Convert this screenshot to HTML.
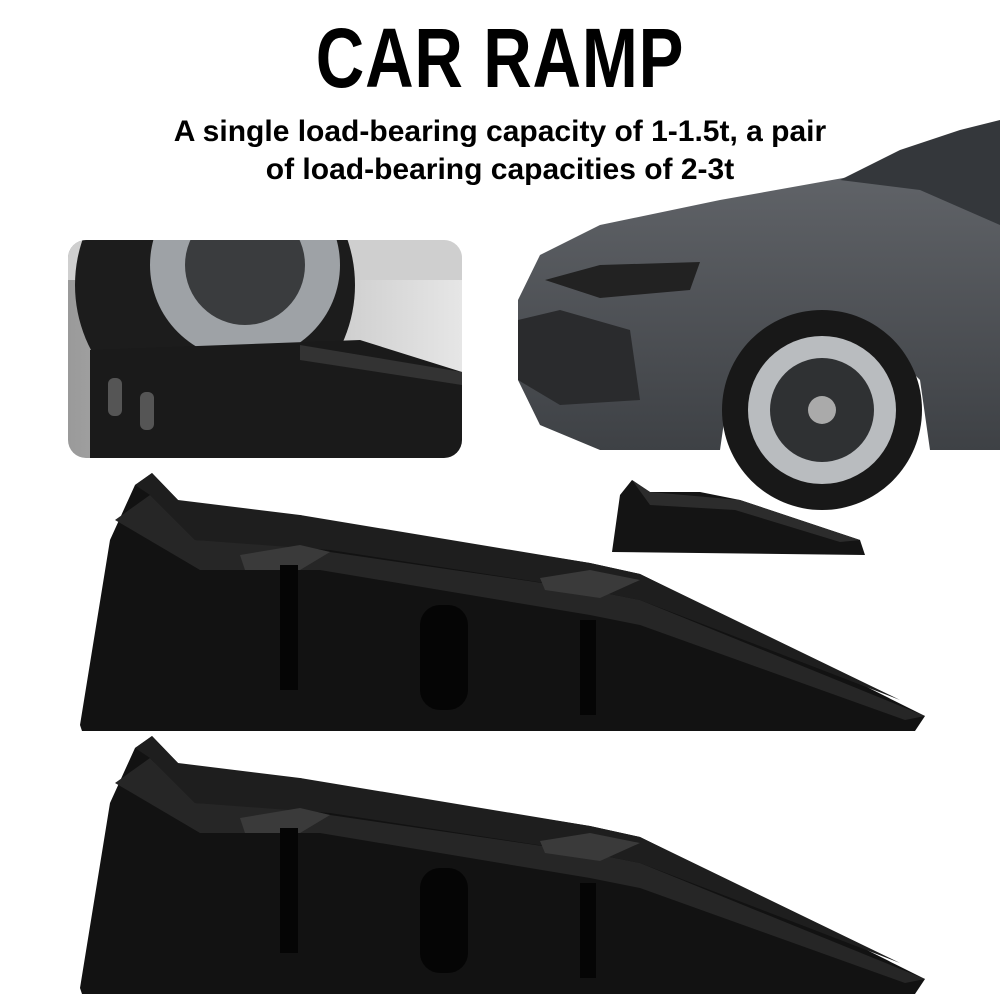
<!DOCTYPE html>
<html><head><meta charset="utf-8"><style>
html,body{margin:0;padding:0;background:#fff;}
.wrap{position:relative;width:1000px;height:1000px;overflow:hidden;background:#fff;font-family:"Liberation Sans",sans-serif;}
h1{position:absolute;left:0;width:1000px;top:10px;margin:0;text-align:center;font-size:84px;font-weight:900;letter-spacing:1px;transform:scaleX(0.8);color:#000;font-family:"Liberation Sans",sans-serif;}
.sub{position:absolute;left:0;width:1000px;top:113px;text-align:center;font-size:30px;font-weight:bold;line-height:38px;color:#000;}
svg{position:absolute;left:0;top:0;}
</style></head><body><div class="wrap">
<svg width="1000" height="1000" viewBox="0 0 1000 1000">
<defs>
<clipPath id="ins"><rect x="68" y="240" width="394" height="218" rx="18"/></clipPath>
<linearGradient id="carg" x1="0" y1="0" x2="0" y2="1"><stop offset="0" stop-color="#66696e"/><stop offset="1" stop-color="#3e4145"/></linearGradient>
<linearGradient id="bg" x1="0" y1="0" x2="1" y2="0"><stop offset="0" stop-color="#9a9a9a"/><stop offset="1" stop-color="#e6e6e6"/></linearGradient>
</defs>
<g clip-path="url(#ins)">
<rect x="68" y="240" width="394" height="218" fill="url(#bg)"/>
<rect x="68" y="240" width="394" height="40" fill="#cfcfcf"/>
<circle cx="215" cy="285" r="140" fill="#1c1c1c"/>
<circle cx="245" cy="265" r="95" fill="#9ea2a6"/>
<circle cx="245" cy="265" r="60" fill="#3a3c3e"/>
<polygon points="90,350 360,340 462,372 462,458 90,458" fill="#1a1a1a"/>
<polygon points="300,345 462,372 462,385 300,360" fill="#333"/>
<rect x="108" y="378" width="14" height="38" rx="6" fill="#555"/>
<rect x="140" y="392" width="14" height="38" rx="6" fill="#555"/>
</g>
<polygon points="518,300 540,255 600,225 720,200 860,175 930,150 1000,125 1000,450 930,450 920,380 880,340 820,325 760,340 730,380 720,450 600,450 540,425 518,380" fill="url(#carg)"/>
<polygon points="840,180 900,150 960,130 1000,120 1000,225 920,190" fill="#34373b"/>
<polygon points="545,280 600,265 700,262 690,290 600,298" fill="#222"/>
<polygon points="518,320 560,310 630,330 640,400 560,405 518,380" fill="#2a2b2d"/>
<circle cx="822" cy="410" r="100" fill="#181818"/>
<circle cx="822" cy="410" r="74" fill="#b9bcbf"/>
<circle cx="822" cy="410" r="52" fill="#2f3133"/>
<circle cx="822" cy="410" r="14" fill="#aaa"/>
<polygon points="612,552 620,495 632,480 650,492 700,492 740,500 860,540 865,555" fill="#141414"/>
<polygon points="632,480 650,492 740,500 860,540 840,542 735,510 650,505" fill="#2c2c2c"/>
<g id="ramp">
<polygon points="80,725 110,540 135,485 152,473 178,500 185,515 300,515 320,520 590,563 640,574 925,716 915,731 82,731" fill="#121212"/>
<polygon points="115,520 150,495 195,540 300,545 330,552 590,590 640,600 925,716 905,720 640,625 590,615 320,570 200,570" fill="#262626"/>
<polygon points="135,485 152,473 178,500 300,515 590,563 640,574 900,700 640,600 590,590 330,550 195,540 150,495" fill="#1e1e1e"/>
<polygon points="240,555 300,545 330,552 300,570 245,570" fill="#3a3a3a"/>
<polygon points="540,578 590,570 640,580 600,598 545,590" fill="#3a3a3a"/>
<rect x="280" y="565" width="18" height="125" fill="#050505"/>
<rect x="420" y="605" width="48" height="105" rx="20" fill="#050505"/>
<rect x="580" y="620" width="16" height="95" fill="#050505"/>
</g>
<use href="#ramp" transform="translate(0,263)"/>
</svg>
<h1>CAR RAMP</h1>
<div class="sub">A single load-bearing capacity of 1-1.5t, a pair<br>of load-bearing capacities of 2-3t</div>
</div></body></html>
